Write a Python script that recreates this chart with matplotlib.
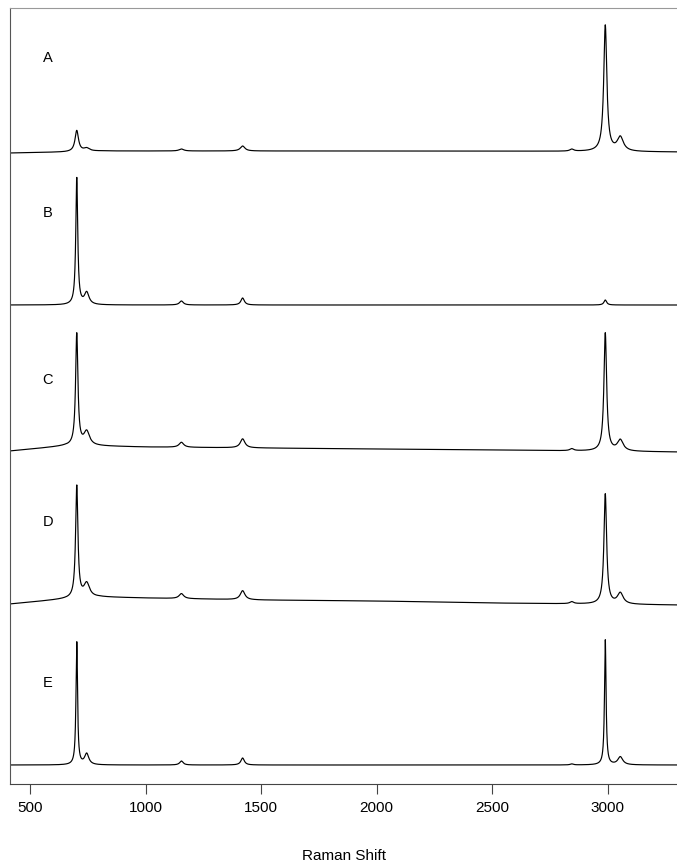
import numpy as np
import matplotlib
matplotlib.use("Agg")
import matplotlib.pyplot as plt

plt.rcParams['font.family'] = ['Liberation Sans', 'DejaVu Sans']

# spectrum labels and vertical offsets (baseline level of each trace)
labels = ["A", "B", "C", "D", "E"]
offsets = [631, 479, 333, 180, 19]
label_y = [726, 571, 404, 262, 101]

# baseline drift anchors per trace: (shift, level above offset)
base_x = [413, 650, 800, 1000, 1500, 2000, 2500, 3300]
base_A = [0, 1, 2, 2, 2, 2, 2, 1]
base_B = [0, 0, 0, 0, 0, 0, 0, 0]
base_C = [0, 5, 5, 4, 3, 2, 1, -1]
base_D = [0, 5, 7, 6, 4, 3, 1, -1]
base_E = [0, 0, 0, 0, 0, 0, 0, 0]

# band table per trace: position (cm-1), height, half width
pos_A = [702, 745, 1155, 1420, 2845, 2990, 3055]
amp_A = [21, 3, 2, 5, 2, 126, 14]
wid_A = [9, 15, 12, 12, 10, 8, 16]

pos_B = [702, 745, 1155, 1420, 2990]
amp_B = [127, 12, 4, 7, 5]
wid_B = [5, 12, 10, 9, 7]

pos_C = [702, 745, 1155, 1420, 2845, 2990, 3055]
amp_C = [112, 14, 5, 9, 2, 118, 11]
wid_C = [6, 15, 12, 12, 10, 7, 15]

pos_D = [702, 745, 1155, 1420, 2845, 2990, 3055]
amp_D = [112, 14, 5, 9, 2, 110, 11]
wid_D = [6, 15, 12, 12, 10, 7, 15]

pos_E = [702, 745, 1155, 1420, 2845, 2990, 3055]
amp_E = [123, 11, 4, 7, 1, 125, 8]
wid_E = [4, 11, 9, 9, 8, 4, 13]

bases = [base_A, base_B, base_C, base_D, base_E]
bands = [(pos_A, amp_A, wid_A), (pos_B, amp_B, wid_B), (pos_C, amp_C, wid_C),
         (pos_D, amp_D, wid_D), (pos_E, amp_E, wid_E)]

shift = np.linspace(413, 3300, 6000)


def lorentz(x, p, a, w):
    return a * w**2 / ((x - p)**2 + w**2)


fig = plt.figure(figsize=(6.77, 8.68), dpi=100)
ax = fig.add_axes([10/677, 1 - 784/868, 667/677, (784 - 8)/868])

for lab, off, ly, base, (pos, amp, wid) in zip(labels, offsets, label_y, bases, bands):
    y = off + np.interp(shift, base_x, base)
    for p, a, w in zip(pos, amp, wid):
        y = y + lorentz(shift, p, a, w)
    ax.plot(shift, y, color='black', lw=0.85)
    ax.text(577, ly, lab, fontsize=10.5, ha='center', va='center')

ax.set_xlim(413, 413 + 667 * 500 / 115.5)
ax.set_ylim(0, 776)
ax.set_xticks([500, 1000, 1500, 2000, 2500, 3000])
ax.tick_params(axis='x', direction='out', length=7, width=0.8,
               labelsize=11, pad=5, color='#444444')
ax.set_yticks([])
ax.spines['right'].set_visible(False)
ax.spines['top'].set_color('#999999')
ax.spines['top'].set_linewidth(0.8)
ax.spines['left'].set_color('#555555')
ax.spines['bottom'].set_color('#444444')
ax.spines['left'].set_linewidth(0.8)
ax.spines['bottom'].set_linewidth(0.8)
ax.set_xlabel('Raman Shift', fontsize=11, labelpad=25)

fig.savefig('out.png', dpi=100)
